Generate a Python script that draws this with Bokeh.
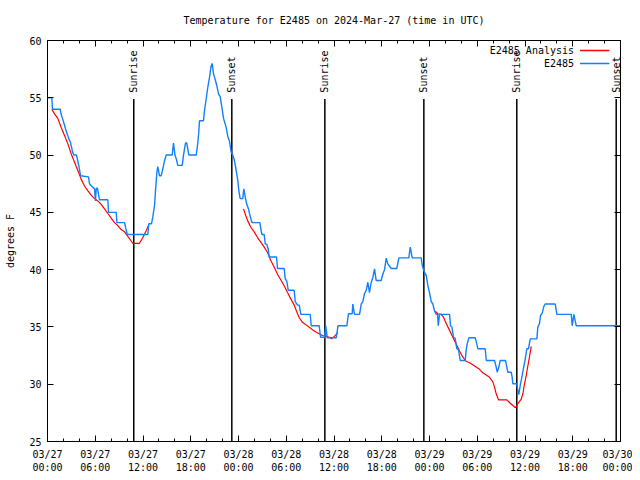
import math
from bokeh.plotting import figure
from bokeh.models import FixedTicker, LinearAxis, Range1d
from bokeh.core.properties import value
from bokeh.embed import file_html
from bokeh.resources import INLINE

# ---- data (hours since 2024-03-27 00:00 UTC) ----
obs_hours = [
    0.00, 0.54, 0.63, 1.60, 1.70, 1.88, 2.14, 2.26, 2.45, 2.64,
    2.89, 3.18, 3.33, 3.64, 3.93, 4.15, 5.15, 5.28, 5.53, 5.91,
    6.03, 6.13, 6.28, 6.53, 7.58, 7.67, 8.63, 8.73, 9.68, 9.84,
    10.02, 12.60, 12.73, 13.07, 13.23, 13.45, 13.57, 13.73, 13.86, 14.07,
    14.29, 14.49, 14.70, 14.92, 15.67, 15.83, 16.02, 16.21, 16.37, 16.93,
    17.09, 17.34, 17.50, 17.76, 18.69, 18.89, 19.01, 19.10, 19.60, 19.73,
    19.94, 20.14, 20.36, 20.57, 20.70, 20.86, 21.07, 21.27, 21.49, 21.70,
    21.90, 22.12, 22.46, 22.66, 22.87, 23.08, 23.29, 23.50, 23.71, 23.91,
    24.04, 24.21, 24.54, 24.67, 24.88, 25.04, 25.26, 25.38, 25.57, 25.72,
    26.68, 26.80, 26.93, 27.23, 27.36, 27.56, 27.73, 27.86, 28.78, 28.90,
    29.74, 29.87, 30.07, 30.25, 31.00, 31.13, 31.42, 31.63, 31.83, 33.01,
    33.14, 34.14, 34.31, 34.81, 34.97, 35.15, 36.28, 36.50, 37.61, 37.82,
    38.29, 38.36, 38.58, 39.21, 39.42, 39.62, 39.83, 40.05, 40.25, 40.46,
    40.68, 40.88, 41.09, 41.30, 41.93, 42.13, 42.35, 42.56, 42.76, 43.19,
    43.89, 44.15, 45.40, 45.58, 45.83, 46.96, 47.08, 47.29, 47.59, 47.79,
    48.00, 48.22, 48.42, 48.63, 48.84, 49.01, 49.10, 49.26, 50.52, 50.64,
    50.81, 51.02, 51.23, 51.43, 51.65, 51.86, 52.49, 52.61, 52.74, 52.94,
    53.75, 53.95, 54.07, 55.00, 55.13, 56.17, 56.38, 56.51, 56.71, 56.89,
    57.55, 57.72, 57.84, 58.27, 58.39, 58.47, 58.97, 59.10, 59.22, 59.40,
    59.60, 59.81, 60.03, 60.23, 60.44, 60.66, 61.49, 61.61, 61.82, 61.95,
    62.16, 62.37, 62.54, 63.80, 64.00, 65.81, 65.93, 66.14, 66.44, 72.00,
]
obs_temps = [
    55.0, 55.0, 54.0, 54.0, 53.6, 53.2, 52.6, 52.3, 51.9, 51.5,
    51.1, 50.2, 50.0, 50.0, 49.1, 48.2, 48.1, 47.5, 47.3, 47.05,
    46.0, 47.1, 47.1, 46.1, 46.1, 45.0, 45.0, 44.1, 44.1, 43.6,
    43.07, 43.07, 44.0, 44.0, 44.6, 45.6, 46.9, 48.4, 49.0, 48.2,
    48.2, 48.8, 49.5, 50.0, 50.0, 51.05, 50.0, 49.6, 49.1, 49.1,
    50.0, 51.05, 51.05, 50.0, 50.0, 51.1, 52.0, 53.0, 53.0, 53.9,
    54.9, 55.9, 56.8, 57.8, 58.0, 57.1, 56.6, 56.07, 55.35, 55.1,
    54.2, 53.2, 52.4, 51.6, 51.2, 50.25, 50.0, 49.5, 48.65, 47.8,
    46.9, 46.2, 46.2, 47.05, 46.2, 45.7, 45.3, 44.9, 44.4, 44.1,
    44.1, 43.6, 43.07, 43.07, 42.25, 42.2, 41.8, 41.1, 41.1, 40.1,
    40.1, 39.2, 39.0, 38.2, 38.2, 37.2, 36.9, 36.9, 36.1, 36.1,
    35.1, 35.1, 34.1, 34.1, 35.1, 34.05, 34.05, 35.1, 35.1, 36.15,
    36.15, 37.0, 36.1, 36.1, 37.0, 37.2, 37.9, 38.2, 38.9, 38.0,
    38.9, 39.3, 40.07, 39.05, 39.05, 39.6, 40.0, 41.0, 40.5, 40.1,
    40.1, 41.03, 41.03, 41.96, 41.03, 41.03, 40.4, 39.9, 39.5, 38.6,
    38.0, 37.2, 37.0, 36.4, 36.1, 36.1, 35.1, 36.1, 36.1, 35.1,
    35.0, 34.1, 34.0, 33.1, 33.0, 32.07, 32.07, 33.0, 33.5, 34.05,
    34.05, 33.5, 33.1, 33.1, 32.07, 32.07, 31.5, 31.05, 31.5, 32.07,
    32.07, 31.5, 31.05, 31.05, 30.6, 30.04, 30.04, 29.45, 29.1, 29.9,
    30.6, 31.4, 32.2, 33.1, 33.1, 33.96, 33.96, 34.98, 35.3, 36.0,
    36.2, 36.8, 37.0, 37.0, 36.1, 36.1, 35.1, 36.1, 35.1, 35.1,
]

ana1_hours = [0.54, 0.88, 1.29, 1.72, 2.14, 2.55, 2.98, 3.39, 3.81, 4.23,
              4.65, 5.06, 5.49, 5.91, 6.32, 6.75, 7.16, 7.58, 8.00, 8.42,
              8.83, 9.26, 9.68, 10.09, 10.52, 10.72, 11.56, 11.98, 12.40, 12.69]
ana1_temps = [54.0, 53.6, 53.2, 52.4, 51.7, 51.0, 50.1, 49.4, 48.65, 47.9,
              47.3, 46.9, 46.5, 46.2, 46.0, 45.7, 45.3, 44.9, 44.5, 44.1,
              43.85, 43.5, 43.3, 42.9, 42.5, 42.3, 42.3, 42.8, 43.4, 43.85]
ana2_hours = [24.63, 24.92, 25.13, 25.55, 25.97, 26.39, 26.80, 27.23, 27.65, 28.06,
              28.49, 28.90, 29.32, 29.74, 30.16, 30.57, 31.00, 31.42, 31.63, 32.04,
              32.46, 32.89, 33.30, 33.72, 34.14, 34.56, 34.97, 35.40, 35.69, 36.07, 36.48]
ana2_temps = [45.3, 44.7, 44.3, 43.7, 43.3, 42.8, 42.4, 41.96, 41.5, 40.8,
              40.2, 39.6, 39.1, 38.6, 38.0, 37.45, 36.9, 36.15, 35.8, 35.4,
              35.2, 34.98, 34.75, 34.55, 34.4, 34.25, 34.2, 34.1, 33.96, 34.2, 34.5]
ana3_hours = [48.72, 49.05, 49.47, 49.76, 50.10, 50.52, 50.93, 51.36, 51.77, 52.19,
              52.61, 53.03, 53.44, 53.87, 54.29, 54.70, 55.13, 55.54, 55.96, 56.17,
              56.38, 56.67, 57.72, 58.14, 58.47, 58.81, 59.10, 59.53, 59.73, 59.94,
              60.15, 60.36, 60.57, 60.78]
ana3_temps = [36.37, 36.15, 36.1, 35.85, 35.3, 34.7, 34.1, 33.5, 32.9, 32.36,
              32.0, 31.87, 31.7, 31.5, 31.3, 31.0, 30.8, 30.6, 30.2, 29.74,
              29.16, 28.64, 28.64, 28.34, 28.14, 27.94, 28.3, 28.7, 29.16, 30.04,
              30.76, 31.6, 32.4, 33.3]

sun_event_hours = [10.84, 23.16, 34.85, 47.29, 58.97, 71.46]
sun_event_names = ["Sunrise", "Sunset", "Sunrise", "Sunset", "Sunrise", "Sunset"]

x_ticks = [0, 6, 12, 18, 24, 30, 36, 42, 48, 54, 60, 66, 72]
x_tick_labels = ["03/27\n00:00", "03/27\n06:00", "03/27\n12:00", "03/27\n18:00",
                 "03/28\n00:00", "03/28\n06:00", "03/28\n12:00", "03/28\n18:00",
                 "03/29\n00:00", "03/29\n06:00", "03/29\n12:00", "03/29\n18:00",
                 "03/30\n00:00"]
x_minor_ticks = list(range(0, 73, 2))
y_ticks = [25, 30, 35, 40, 45, 50, 55, 60]

series_names = ["E2485 Analysis", "E2485"]

# ---- styling ----
FONT = "DejaVu Sans Mono"
FS = "10px"
BLUE = "#1080ff"
RED = "#ff0000"

p = figure(width=632, height=478, output_backend="svg", toolbar_location=None,
           x_range=Range1d(0, 72), y_range=Range1d(25, 60),
           min_border_left=47, min_border_right=12, min_border_top=40,
           min_border_bottom=37, background_fill_color="white",
           border_fill_color="white")

p.title.text = "Temperature for E2485 on 2024-Mar-27 (time in UTC)"
p.title.align = "center"
p.title.vertical_align = "top"
p.title.text_font = FONT
p.title.text_font_size = FS
p.title.text_font_style = "normal"
p.title.text_color = "black"
p.title.standoff = 25

p.xgrid.visible = False
p.ygrid.visible = False
p.outline_line_color = "black"
p.outline_line_width = 1
p.outline_line_alpha = 1

def style_axis(ax, show_labels=True):
    ax.axis_line_color = None
    ax.major_tick_in = 6
    ax.major_tick_out = 0
    ax.minor_tick_in = 3
    ax.minor_tick_out = 0
    ax.major_tick_line_color = "black"
    ax.minor_tick_line_color = "black"
    ax.major_label_text_font = FONT
    if show_labels:
        ax.major_label_text_font_size = FS
        ax.major_label_text_color = "black"
    else:
        ax.major_label_text_font_size = "1px"
        ax.major_label_text_color = None
        ax.major_label_standoff = 0

xt = FixedTicker(ticks=x_ticks, minor_ticks=x_minor_ticks)
yt = FixedTicker(ticks=y_ticks, minor_ticks=[])

xa = p.xaxis[0]
xa.ticker = xt
xa.major_label_overrides = {t: lab for t, lab in zip(x_ticks, x_tick_labels)}
style_axis(xa)
xa.major_label_standoff = 7

ya = p.yaxis[0]
ya.ticker = yt
style_axis(ya)
ya.major_label_standoff = 6
ya.axis_label = "degrees F"
ya.axis_label_text_font = FONT
ya.axis_label_text_font_size = FS
ya.axis_label_text_font_style = "normal"
ya.axis_label_text_color = "black"
ya.axis_label_standoff = 10

top = LinearAxis(ticker=FixedTicker(ticks=x_ticks, minor_ticks=x_minor_ticks))
style_axis(top, show_labels=False)
p.add_layout(top, "above")

right = LinearAxis(ticker=FixedTicker(ticks=y_ticks, minor_ticks=[]))
style_axis(right, show_labels=False)
p.add_layout(right, "right")

# sunrise / sunset markers
line_top = 54.9
label_y = 55.45
p.segment(x0=sun_event_hours, y0=[25] * len(sun_event_hours),
          x1=sun_event_hours, y1=[line_top] * len(sun_event_hours),
          line_color="black", line_width=1.5)
p.text(x=sun_event_hours, y=[label_y] * len(sun_event_hours), text=sun_event_names,
       angle=math.pi / 2, text_align="left", text_baseline="middle",
       text_font=value(FONT), text_font_size=value(FS), text_color="black")

# series
p.multi_line(xs=[ana1_hours, ana2_hours, ana3_hours],
             ys=[ana1_temps, ana2_temps, ana3_temps],
             line_color=RED, line_width=1.2)
p.line(obs_hours, obs_temps, line_color=BLUE, line_width=1.4)

# gnuplot-style key (text left of sample), top right inside
key_text_x = 66.16
key_line_x0 = 66.9
key_line_x1 = 70.6
key_rows_y = [59.13, 57.99]
p.text(x=[key_text_x] * 2, y=key_rows_y, text=series_names,
       text_align="right", text_baseline="middle",
       text_font=value(FONT), text_font_size=value(FS), text_color="black")
p.segment(x0=[key_line_x0] * 2, y0=key_rows_y, x1=[key_line_x1] * 2, y1=key_rows_y,
          line_color=[RED, BLUE], line_width=1.5)

open("out.html", "w").write(file_html(p, INLINE))
